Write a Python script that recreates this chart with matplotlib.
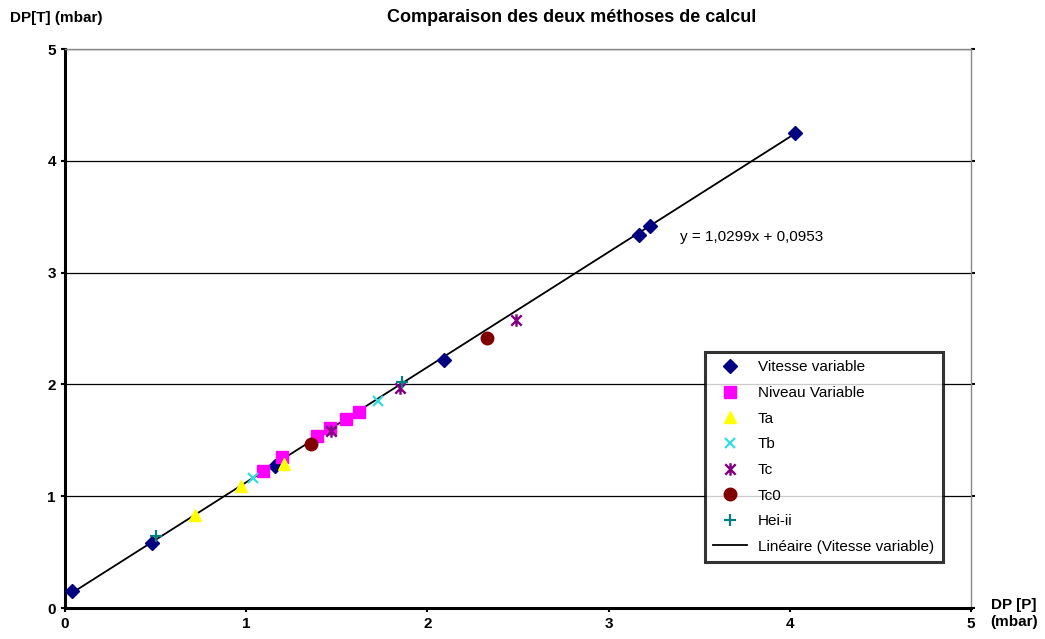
import numpy as np
import matplotlib.pyplot as plt
from matplotlib.lines import Line2D
from matplotlib.path import Path

plt.rcParams['font.family'] = ['Liberation Sans', 'DejaVu Sans']

# Pressure drop series: DP[P] (x) vs DP[T] (y), in mbar
vitesse_x = [0.04, 0.48, 1.16, 2.09, 3.17, 3.23, 4.03]
vitesse_y = [0.15, 0.58, 1.27, 2.22, 3.34, 3.42, 4.25]
niveau_x = [1.09, 1.20, 1.39, 1.46, 1.55, 1.62]
niveau_y = [1.23, 1.35, 1.54, 1.61, 1.69, 1.75]
ta_x = [0.72, 0.97, 1.21]
ta_y = [0.83, 1.09, 1.29]
tb_x = [1.04, 1.73]
tb_y = [1.16, 1.85]
tc_x = [1.47, 1.85, 2.49]
tc_y = [1.58, 1.97, 2.58]
tc0_x = [1.36, 2.33]
tc0_y = [1.47, 2.42]
hei_x = [0.50, 1.86]
hei_y = [0.64, 2.02]

# linear trend on the "Vitesse variable" series
slope = 1.0299
intercept = 0.0953

# star marker: an X crossed by a vertical bar
star = Path([(-1, -1), (1, 1), (-1, 1), (1, -1), (0, -1.2), (0, 1.2)],
            [Path.MOVETO, Path.LINETO, Path.MOVETO, Path.LINETO, Path.MOVETO, Path.LINETO])

styles = [
    dict(marker='D', color='#000080', markersize=7.5),
    dict(marker='s', color='#ff00ff', markersize=8),
    dict(marker='^', color='#ffff00', markersize=8.5),
    dict(marker='x', color='#33dddd', markersize=7.5, markeredgewidth=1.6),
    dict(marker=star, color='#800080', markersize=9, markeredgewidth=1.7),
    dict(marker='o', color='#800000', markersize=9),
    dict(marker='+', color='#008080', markersize=8.5, markeredgewidth=1.6),
]
series = [(vitesse_x, vitesse_y), (niveau_x, niveau_y), (ta_x, ta_y), (tb_x, tb_y),
          (tc_x, tc_y), (tc0_x, tc0_y), (hei_x, hei_y)]
labels = ['Vitesse variable', 'Niveau Variable', 'Ta', 'Tb', 'Tc', 'Tc0', 'Hei-ii',
          'Linéaire (Vitesse variable)']

fig = plt.figure(figsize=(10.45, 6.39), dpi=100)
ax = fig.add_axes([0.0622, 0.0485, 0.867, 0.8745])

ax.set_xlim(0, 5)
ax.set_ylim(0, 5)
ax.set_xticks(range(6))
ax.set_yticks(range(6))
ax.tick_params(axis='both', direction='out', length=3, width=1.5, labelsize=11)
ax.tick_params(axis='y', right=True, which='major')
for lbl in ax.get_xticklabels() + ax.get_yticklabels():
    lbl.set_fontweight('bold')
ax.yaxis.grid(True, color='black', linewidth=0.9)
ax.set_axisbelow(True)

ax.spines['left'].set_linewidth(2.2)
ax.spines['bottom'].set_linewidth(2.2)
for side in ['right', 'top']:
    ax.spines[side].set_color('#888888')
    ax.spines[side].set_linewidth(1.0)

# trend line across the range of the fitted series
xs = np.array([min(vitesse_x), max(vitesse_x)])
ax.plot(xs, slope * xs + intercept, color='black', linewidth=1.3, zorder=2)

handles = []
for (sx, sy), st in zip(series, styles):
    ax.plot(sx, sy, linestyle='none', zorder=3, **st)
    handles.append(Line2D([], [], linestyle='none', **st))
handles.append(Line2D([], [], color='black', linewidth=1.3))

ax.text(3.394, 3.32, 'y = 1,0299x + 0,0953', fontsize=11, va='center', ha='left')

leg = ax.legend(handles, labels, loc='upper left', bbox_to_anchor=(0.706, 0.458),
                frameon=True, fancybox=False, fontsize=11, handlelength=2.2,
                handletextpad=0.75, labelspacing=0.76, borderpad=0.55, borderaxespad=0)
leg.get_frame().set_edgecolor('black')
leg.get_frame().set_linewidth(2.2)

fig.text(0.547, 0.972, 'Comparaison des deux méthoses de calcul', fontsize=13,
         fontweight='bold', ha='center', va='center')
fig.text(0.010, 0.972, 'DP[T] (mbar)', fontsize=11, fontweight='bold', ha='left', va='center')
fig.text(0.970, 0.040, 'DP [P]\n(mbar)', fontsize=11, fontweight='bold', ha='center',
         va='center', linespacing=1.2)

fig.savefig('out.png', dpi=100)
